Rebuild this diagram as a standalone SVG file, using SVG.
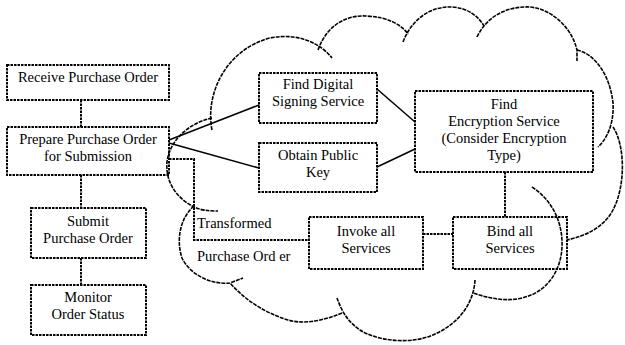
<svg xmlns="http://www.w3.org/2000/svg" width="625" height="345" viewBox="0 0 625 345">
<style>
.box{fill:none;stroke:#000;stroke-width:2;stroke-dasharray:2.5 1}
.dot{fill:none;stroke:#000;stroke-width:2;stroke-dasharray:2.5 1}
.ln{fill:none;stroke:#000;stroke-width:1.5}
.cl{fill:none;stroke:#000;stroke-width:1.6;stroke-dasharray:4 1}
text{font-family:"Liberation Serif","Times New Roman",serif;font-size:14.5px;fill:#000}
.c{text-anchor:middle}
</style>
<rect width="625" height="345" fill="#fff"/>
<g id="cloud">
<path class="cl" d="M212,130 C205,95 225,50 270,38 C300,32 322,45 332,58"/>
<path class="cl" d="M318,50 C328,22 350,15 366,16 C388,17 402,25 408,34"/>
<path class="cl" d="M403,42 C412,18 432,6 452,7 C468,8 478,16 484,26"/>
<path class="cl" d="M477,37 C488,14 510,6 530,7 C552,9 572,28 577,50 L577,61"/>
<path class="cl" d="M577,50 C595,54 610,75 613,103 C614,118 610,136 598,147"/>
<path class="cl" d="M613,127 C625,145 626,185 613,210 C605,225 590,235 567,240"/>
<path class="cl" d="M532,187 C552,200 563,222 562,247 C561,270 548,292 522,298 C505,302 488,298 473,293"/>
<path class="cl" d="M475,280 C474,300 462,322 435,334 C410,346 375,340 360,330 C350,323 343,315 337,298"/>
<path class="cl" d="M342,313 C325,320 305,325 288,320 C265,313 245,300 230,283"/>
<path class="cl" d="M194,206 C180,218 176,240 182,258 C190,275 212,285 230,283 L243,278"/>
<path class="cl" d="M212,118 C192,122 170,138 167,162 C165,185 180,200 194,207 C200,210 208,211 218,211"/>
</g>
<g id="connectors">
<line class="dot" x1="81" y1="100" x2="81" y2="127"/>
<line class="dot" x1="81" y1="175" x2="81" y2="208"/>
<line class="dot" x1="81" y1="258" x2="81" y2="285"/>
<line class="ln" x1="169" y1="140" x2="259" y2="105"/>
<line class="ln" x1="169" y1="143" x2="259" y2="168"/>
<line class="ln" x1="377" y1="89" x2="415" y2="122"/>
<line class="ln" x1="377" y1="167" x2="415" y2="149"/>
<line class="dot" x1="505" y1="172" x2="505" y2="217"/>
<line class="dot" x1="423" y1="234" x2="453" y2="234"/>
<polyline class="dot" points="169,159 194,159 194,240 309,240"/>
</g>
<g id="receive"><rect class="box" x="7" y="65" width="162" height="35"/><text class="c" x="88" y="82">Receive Purchase Order</text></g>
<g id="prepare"><rect class="box" x="7" y="127" width="162" height="48"/><text class="c" x="88" y="144">Prepare Purchase Order</text><text class="c" x="88" y="161">for Submission</text></g>
<g id="submit"><rect class="box" x="31" y="208" width="115" height="50"/><text class="c" x="88" y="226">Submit</text><text class="c" x="88" y="243">Purchase Order</text></g>
<g id="monitor"><rect class="box" x="31" y="285" width="115" height="50"/><text class="c" x="88" y="302">Monitor</text><text class="c" x="88" y="319">Order Status</text></g>
<g id="findsign"><rect class="box" x="259" y="73" width="118" height="50"/><text class="c" x="318" y="89">Find Digital</text><text class="c" x="318" y="106">Signing Service</text></g>
<g id="pubkey"><rect class="box" x="259" y="143" width="118" height="49"/><text class="c" x="318" y="160">Obtain Public</text><text class="c" x="318" y="177">Key</text></g>
<g id="findenc"><rect class="box" x="415" y="91" width="178" height="81"/><text class="c" x="504" y="109">Find</text><text class="c" x="504" y="126">Encryption Service</text><text class="c" x="504" y="143">(Consider Encryption</text><text class="c" x="504" y="160">Type)</text></g>
<g id="invoke"><rect class="box" x="309" y="217" width="114" height="52"/><text class="c" x="366" y="236">Invoke all</text><text class="c" x="366" y="253">Services</text></g>
<g id="bind"><rect class="box" x="453" y="217" width="114" height="52"/><text class="c" x="510" y="236">Bind all</text><text class="c" x="510" y="253">Services</text></g>
<g id="labels"><text x="197" y="228">Transformed</text><text x="197" y="261">Purchase Ord er</text></g>
</svg>
